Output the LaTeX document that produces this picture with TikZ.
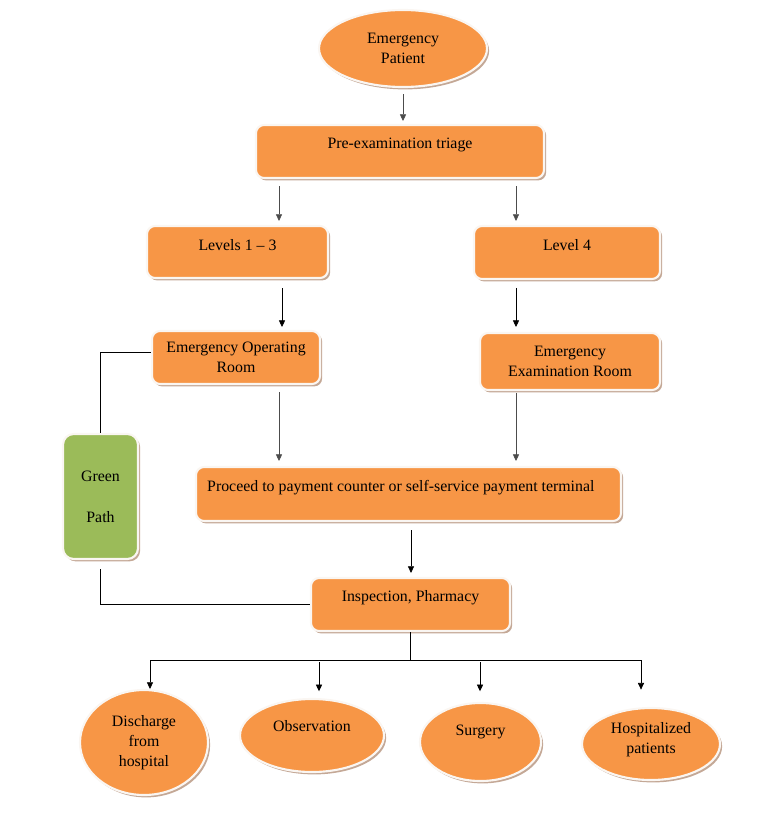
\documentclass[tikz,border=0pt]{standalone}
\usepackage{fontspec}
\setmainfont{Liberation Serif}
\usetikzlibrary{shapes.geometric,shadows,arrows.meta,calc}
\definecolor{orng}{HTML}{F79646}
\definecolor{grn}{HTML}{9BBB59}
\definecolor{shd}{RGB}{196,168,150}
\definecolor{rim}{RGB}{250,246,242}
\begin{document}
\begin{tikzpicture}[x=0.75pt,y=-0.75pt,
  font=\fontsize{11.9}{15}\selectfont,
  sh/.style={draw=rim, line width=1.6pt,
    drop shadow={shadow xshift=1.6pt, shadow yshift=-1.8pt, fill=shd, opacity=1}},
  rbox/.style={sh, rounded corners=6pt, fill=orng, inner sep=0pt, align=center},
  gbox/.style={sh, rounded corners=8pt, fill=grn, inner sep=0pt, align=center},
  ell/.style={sh, ellipse, fill=orng, inner sep=0pt, align=center},
  arr/.style={-{Triangle[length=5pt,width=4.6pt]}, line width=0.5pt},
  ln/.style={line width=0.6pt},
]
\useasboundingbox (0,0) rectangle (780,820);

% nodes
\node[ell, minimum width={168*0.75pt}, minimum height={77*0.75pt}] (ep) at (403,48.5) {Emergency\\Patient};
\node[rbox, minimum width={288*0.75pt}, minimum height={53*0.75pt},
  label={[yshift={6.5*0.75pt}]center:Pre-examination triage}] (tri) at (400,151.5) {};
\node[rbox, minimum width={181*0.75pt}, minimum height={52*0.75pt},
  label={[yshift={7*0.75pt}]center:Levels 1 – 3}] (l13) at (237.5,252) {};
\node[rbox, minimum width={186*0.75pt}, minimum height={53*0.75pt},
  label={[yshift={7.5*0.75pt}]center:Level 4}] (l4) at (567,252.5) {};
\node[rbox, minimum width={168*0.75pt}, minimum height={53*0.75pt}] (eor) at (236,357.5) {Emergency Operating\\Room};
\node[rbox, minimum width={180*0.75pt}, minimum height={57*0.75pt}] (eer) at (570,361.5) {Emergency\\Examination Room};
\node[rbox, minimum width={425*0.75pt}, minimum height={54*0.75pt},
  label={[anchor=west, inner sep=0pt, xshift={12*0.75pt}, yshift={6*0.75pt}]west:Proceed to payment counter or self-service payment terminal}] (pay) at (408.5,494) {};
\node[rbox, minimum width={199*0.75pt}, minimum height={53*0.75pt},
  label={[yshift={6.5*0.75pt}]center:Inspection, Pharmacy}] (insp) at (410.5,604.5) {};
\node[gbox, minimum width={75*0.75pt}, minimum height={125*0.75pt}] (gp) at (100.5,496.5) {Green\\[16pt]Path};
\node[ell, minimum width={128*0.75pt}, minimum height={105*0.75pt}] (dis) at (144,742.5) {Discharge\\from\\hospital};
\node[ell, minimum width={144*0.75pt}, minimum height={73*0.75pt},
  label={[yshift={9*0.75pt}]center:Observation}] (obs) at (312,735.5) {};
\node[ell, minimum width={121*0.75pt}, minimum height={78*0.75pt},
  label={[yshift={10*0.75pt}]center:Surgery}] (sur) at (480.5,742) {};
\node[ell, minimum width={138*0.75pt}, minimum height={72*0.75pt},
  label={[yshift={4*0.75pt}, align=center]center:Hospitalized\\patients}] (hos) at (651,744) {};

% connector points
\coordinate (t1) at (279,178);
\coordinate (t2) at (516,178);
\coordinate (e1) at (282,278);
\coordinate (e2) at (516,279);
\coordinate (p1) at (279,384);
\coordinate (p2) at (516,390);
\coordinate (bL) at (150,660);
\coordinate (bO) at (319,660);
\coordinate (bS) at (480,660);
\coordinate (bR) at (641,660);

% arrows
\draw[arr, black!70, shorten <=4.5pt, shorten >=2.2pt] (ep.south) -- (ep.south |- tri.north);
\draw[arr, black!70, shorten <=6pt, shorten >=3pt] (t1) -- (t1 |- l13.north);
\draw[arr, black!70, shorten <=6pt, shorten >=3pt] (t2) -- (t2 |- l4.north);
\draw[arr, shorten <=7.5pt, shorten >=2.2pt] (e1) -- (e1 |- eor.north);
\draw[arr, shorten <=6.7pt, shorten >=3.7pt] (e2) -- (e2 |- eer.north);
\draw[arr, black!70, shorten <=6pt, shorten >=3.7pt] (p1) -- (p1 |- pay.north);
\draw[arr, black!70, shorten <=2.2pt, shorten >=3.7pt] (p2) -- (p2 |- pay.north);
\draw[arr, shorten <=6pt, shorten >=3pt] (pay.south -| 411,0) -- (insp.north -| 411,0);

% green path lines
\draw[ln] ($(eor.west)+(0,-5.5)$) -| (gp.north);
\draw[ln] ($(gp.south)+(0,9)$) |- (insp.west);

% bottom branch
\draw[ln] (insp.south) -- (insp.south |- bL);
\draw[ln] (bL) -- (bR);
\draw[arr] (bL) -- (bL |- dis.north);
\draw[arr, shorten <=1.5pt, shorten >=5pt] (bO) -- (bO |- obs.north);
\draw[arr, shorten <=1.5pt, shorten >=8pt] (bS) -- (bS |- sur.north);
\draw[arr, shorten >=13pt] (bR) -- (bR |- hos.north);
\end{tikzpicture}
\end{document}
